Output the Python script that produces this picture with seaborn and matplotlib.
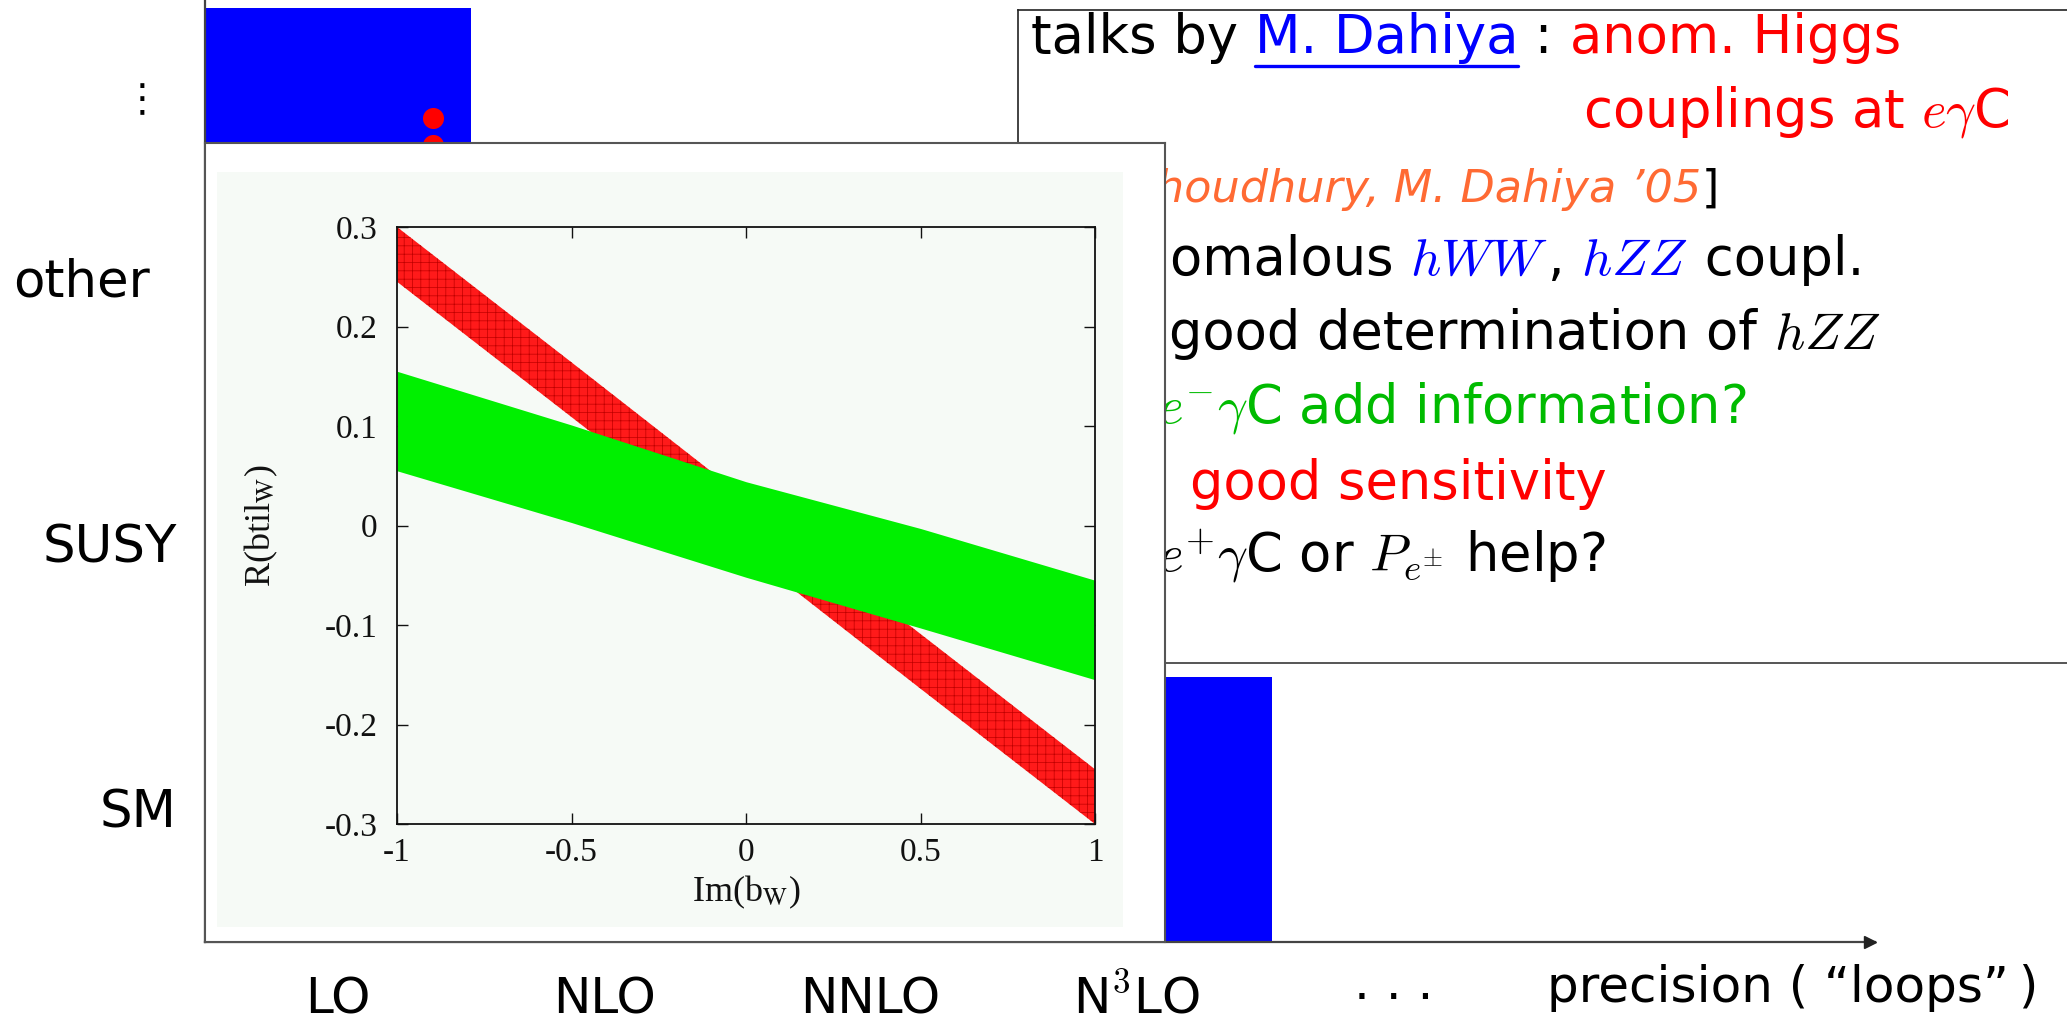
import matplotlib
matplotlib.use('Agg')
import matplotlib.pyplot as plt
import seaborn as sns
import numpy as np
import pandas as pd
from matplotlib.lines import Line2D
from matplotlib.patches import Rectangle

# ---------------- data ----------------
precision_labels = ['LO', 'NLO', 'NNLO', 'N$^3$LO', '· · ·']
precision_pos = [0, 1, 2, 3, 3.97]
model_labels = ['SM', 'SUSY', 'other']
model_pos = [0, 1, 2]

# blue blocks (column extents and row extents)
block_x0 = [-0.5, 2.5]
block_x1 = [0.5, 3.51]
block_y0 = [1.5, -0.5]
block_y1 = [3.02, 0.5]

# red dots
dot_x = [0.357, 0.357]
dot_y = [2.606, 2.505]

# inset: allowed bands in (Im(b_W), R(btil_W))
band_x = [-1.0, -0.5, 0.0, 0.5, 1.0]
red_lo = [0.245, 0.109, -0.027, -0.164, -0.300]
red_hi = [0.300, 0.164, 0.027, -0.109, -0.245]
green_lo = [0.055, 0.003, -0.052, -0.103, -0.155]
green_hi = [0.155, 0.101, 0.044, -0.003, -0.055]
inset_xticks = [-1, -0.5, 0, 0.5, 1]
inset_xticklabels = ['-1', '-0.5', '0', '0.5', '1']
inset_yticks = [0.3, 0.2, 0.1, 0, -0.1, -0.2, -0.3]
inset_yticklabels = ['0.3', '0.2', '0.1', '0', '-0.1', '-0.2', '-0.3']

# ---------------- style ----------------
sns.set_theme(style='white')
plt.rcParams['font.family'] = ['DejaVu Sans']
plt.rcParams['mathtext.fontset'] = 'cm'
plt.rcParams['hatch.linewidth'] = 0.5
plt.rcParams['hatch.color'] = '#c00000'

BLUE = '#0000ff'
RED = '#ff0000'
GREEN = '#00bb00'
ORANGE = '#ff6a33'
BLACK = '#000000'
FS = 38
FS_SMALL = 32
INSET_TICK_FS = 24
INSET_LABEL_FS = 26

W, H = 2067, 1024
fig = plt.figure(figsize=(W / 100, H / 100), dpi=100)
fig.patch.set_facecolor('white')


def fx(px):
    return px / W


def fy(py):
    return 1 - py / H


# ---------------- main (precision vs model) axes ----------------
ax = fig.add_axes([fx(205), fy(942), (1875 - 205) / W, 942 / H], zorder=0)
ax.set_xlim(-0.5, 5.778)
ax.set_ylim(-0.5, 3.051)
for s in ['top', 'right']:
    ax.spines[s].set_visible(False)
for s in ['left', 'bottom']:
    ax.spines[s].set_color('#444444')
    ax.spines[s].set_linewidth(1.6)
ax.set_xticks([])
ax.set_yticks([])
ax.set_facecolor('white')

blocks = pd.DataFrame({'x0': block_x0, 'x1': block_x1, 'y0': block_y0, 'y1': block_y1})
ax.bar(x=(blocks.x0 + blocks.x1) / 2, height=blocks.y1 - blocks.y0, bottom=blocks.y0,
       width=blocks.x1 - blocks.x0, color=BLUE, linewidth=0, zorder=1)
sns.scatterplot(x=dot_x, y=dot_y, color=RED, s=230, linewidth=0, ax=ax, zorder=3, legend=False)

ax.plot([5.76], [-0.5], marker='>', color='#222222', markersize=9, clip_on=False, zorder=4)

for p, lab in zip(precision_pos, precision_labels):
    ax.text(p, -0.0754, lab, transform=ax.get_xaxis_transform(), ha='center', va='baseline',
            fontsize=36, color=BLACK)
ax.text(4.545, -0.0637, 'precision ( “loops”\u2009)', transform=ax.get_xaxis_transform(),
        ha='left', va='baseline', fontsize=36, color=BLACK)

ylab_x = {'SM': -0.0168, 'SUSY': -0.0168, 'other': -0.0329}
for p, lab in zip(model_pos, model_labels):
    ax.text(ylab_x[lab], p - 0.068, lab, transform=ax.get_yaxis_transform(), ha='right',
            va='baseline', fontsize=37, color=BLACK)
ax.text(-0.0377, 2.674, '⋮', transform=ax.get_yaxis_transform(), ha='center', va='center',
        fontsize=28, color=BLACK)

# ---------------- text box ----------------
ax_box = fig.add_axes([fx(1018), fy(663), (2100 - 1018) / W, (663 - 10) / H], zorder=1)
ax_box.set_xticks([])
ax_box.set_yticks([])
ax_box.set_facecolor('white')
ax_box.spines['right'].set_visible(False)
for s in ['top', 'left']:
    ax_box.spines[s].set_color('#222222')
    ax_box.spines[s].set_linewidth(1.2)
ax_box.spines['bottom'].set_color('#555555')
ax_box.spines['bottom'].set_linewidth(1.4)

renderer = fig.canvas.get_renderer()


def put_line(y_px, x_px, segments, prefix=None, anchor='left', size=FS):
    """segments: list of (text, color, italic, underline)"""
    if anchor == 'left':
        xcur = x_px
        for txt, col, ital, und in segments:
            t = fig.text(fx(xcur), fy(y_px), txt, ha='left', va='baseline', fontsize=size,
                         color=col, fontstyle='oblique' if ital else 'normal', zorder=1.5)
            bb = t.get_window_extent(renderer)
            if und:
                fig.add_artist(Line2D([fx(bb.x0), fx(bb.x1)], [fy(y_px + 13)] * 2,
                                      transform=fig.transFigure, color=col, lw=2.4, zorder=1.5))
            xcur = bb.x1
        if prefix is not None:
            txt, col, ital = prefix
            fig.text(fx(x_px), fy(y_px), txt, ha='right', va='baseline', fontsize=size,
                     color=col, fontstyle='oblique' if ital else 'normal', zorder=1.5)
    else:
        xcur = x_px
        for txt, col, ital, und in segments[::-1]:
            t = fig.text(fx(xcur), fy(y_px), txt, ha='right', va='baseline', fontsize=size,
                         color=col, fontstyle='oblique' if ital else 'normal', zorder=1.5)
            bb = t.get_window_extent(renderer)
            xcur = bb.x0


put_line(53, 1031, [('talks by ', BLACK, False, False), ('M. Dahiya', BLUE, False, True),
                    (' : ', BLACK, False, False), ('anom. Higgs', RED, False, False)])
put_line(127, 2009, [(r'couplings at $e\gamma$C', RED, False, False)], anchor='right')
put_line(202, 1156, [('houdhury, M. Dahiya ’05', ORANGE, True, False), (']', BLACK, False, False)],
         prefix=('[D. C', ORANGE, True), size=FS_SMALL)
put_line(275, 1170, [('omalous ', BLACK, False, False), ('$hWW$', BLUE, False, False),
                     (', ', BLACK, False, False), ('$hZZ$', BLUE, False, False),
                     (' coupl.', BLACK, False, False)], prefix=('• an', BLACK, False))
put_line(349, 1169, [('good determination of ', BLACK, False, False), ('$hZZ$', BLACK, False, False)],
         prefix=('⇒ ', BLACK, False))
put_line(423, 1158, [(r'$e^{-}\gamma$C add information?', GREEN, False, False)],
         prefix=('• can ', GREEN, False))
put_line(499, 1190, [('good sensitivity', RED, False, False)], prefix=('⇒    ', RED, False))
put_line(572, 1158, [(r'$e^{+}\gamma$C or $P_{e^{\pm}}$ help?', BLACK, False, False)],
         prefix=('• do ', BLACK, False))

# ---------------- inset panel ----------------
ax_panel = fig.add_axes([fx(205), fy(942), 960 / W, 799 / H], zorder=2)
ax_panel.set_xticks([])
ax_panel.set_yticks([])
ax_panel.set_facecolor('white')
for s in ax_panel.spines.values():
    s.set_color('#555555')
    s.set_linewidth(1.5)
ax_panel.add_patch(Rectangle((0.0125, 0.0188), 0.94375, 0.9449, transform=ax_panel.transAxes,
                             facecolor='#f6faf6', linewidth=0))

ax_in = fig.add_axes([fx(397), fy(824), 698 / W, 597 / H], zorder=3)
ax_in.set_facecolor('#f6faf6')
ax_in.fill_between(band_x, red_lo, red_hi, facecolor='#ff1a1a', edgecolor='#c00000',
                   hatch='++', linewidth=0, zorder=2)
ax_in.fill_between(band_x, green_lo, green_hi, facecolor='#00f000', edgecolor='#00f000',
                   linewidth=0, zorder=3)
ax_in.set_xlim(-1, 1)
ax_in.set_ylim(-0.3, 0.3)
ax_in.set_xticks(inset_xticks)
ax_in.set_xticklabels(inset_xticklabels)
ax_in.set_yticks(inset_yticks)
ax_in.set_yticklabels(inset_yticklabels)
ax_in.tick_params(direction='in', length=8, width=1, colors='#111111', top=True, right=True,
                  bottom=True, left=True, labelsize=INSET_TICK_FS)
ax_in.tick_params(axis='x', pad=10)
ax_in.tick_params(axis='y', pad=14)
for lab in ax_in.get_xticklabels() + ax_in.get_yticklabels():
    lab.set_fontfamily('Liberation Serif')
for s in ax_in.spines.values():
    s.set_color('#111111')
    s.set_linewidth(1.3)
    s.set_zorder(5)
ax_in.set_xlabel(r'Im(b$_\mathrm{W}$)', fontsize=INSET_LABEL_FS, fontfamily='Liberation Serif',
                 math_fontfamily='stix', color='#111111')
ax_in.set_ylabel(r'R(btil$_\mathrm{W}$)', fontsize=INSET_LABEL_FS, fontfamily='Liberation Serif',
                 math_fontfamily='stix', color='#111111')
ax_in.xaxis.label.set_va('center')
ax_in.yaxis.label.set_va('center')
ax_in.xaxis.set_label_coords(0.5, -0.1139)
ax_in.yaxis.set_label_coords(-0.1948, 0.5)

fig.savefig('out.png', dpi=100, facecolor='white')
